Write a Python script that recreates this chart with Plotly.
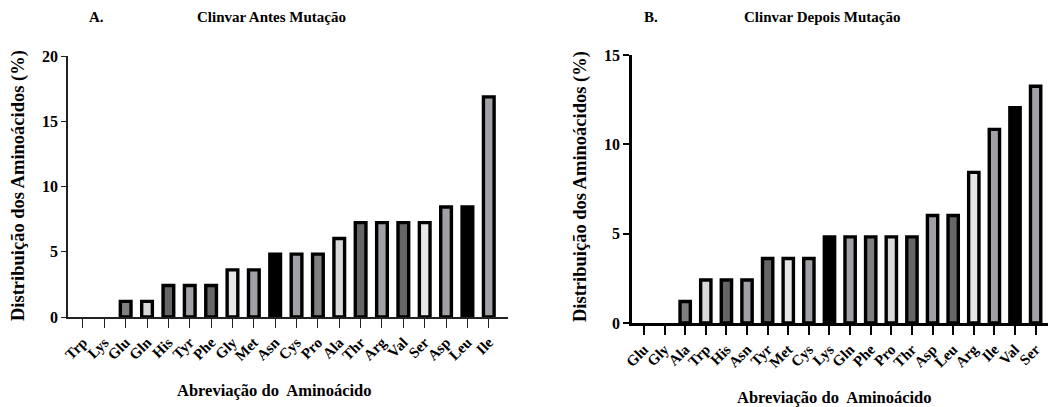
import plotly.graph_objects as go

# ---- data ----
cats_a = ["Trp", "Lys", "Glu", "Gln", "His", "Tyr", "Phe", "Gly", "Met", "Asn",
          "Cys", "Pro", "Ala", "Thr", "Arg", "Val", "Ser", "Asp", "Leu", "Ile"]
vals_a = [0.0, 0.0, 1.2, 1.2, 2.41, 2.41, 2.41, 3.61, 3.61, 4.82,
          4.82, 4.82, 6.02, 7.23, 7.23, 7.23, 7.23, 8.43, 8.43, 16.87]

cats_b = ["Glu", "Gly", "Ala", "Trp", "His", "Asn", "Tyr", "Met", "Cys", "Lys",
          "Gln", "Phe", "Pro", "Thr", "Asp", "Leu", "Arg", "Ile", "Val", "Ser"]
vals_b = [0.0, 0.0, 1.2, 2.41, 2.41, 2.41, 3.61, 3.61, 3.61, 4.82,
          4.82, 4.82, 4.82, 4.82, 6.02, 6.02, 8.43, 10.84, 12.05, 13.25]

yticks_a = [0, 5, 10, 15, 20]
yticks_b = [0, 5, 10, 15]

fill_colors = ["#ffffff", "#ffffff", "#808080", "#d9d9d9", "#666666", "#a0a0a6",
               "#666666", "#e6e6e6", "#a0a0a6", "#000000", "#a0a0a6", "#808080",
               "#d9d9d9", "#666666", "#a0a0a6", "#666666", "#e6e6e6", "#a0a0a6",
               "#000000", "#a0a0a6"]

W, H = 1049, 407
FONT = "Liberation Serif"

def px_x(v):
    return v / W

def px_y(v):
    return 1 - v / H

def b(s):
    return f"<b>{s}</b>"

fig = go.Figure()

for vals, cats, xa, ya in [(vals_a, cats_a, "x", "y"), (vals_b, cats_b, "x2", "y2")]:
    fig.add_trace(go.Bar(
        x=list(range(len(cats))), y=vals, xaxis=xa, yaxis=ya,
        width=0.5,
        marker=dict(color=fill_colors,
                    line=dict(color="#000000",
                              width=[0 if v == 0 else 3.4 for v in vals])),
        showlegend=False, hoverinfo="skip",
    ))

tickfont = dict(family=FONT, size=16, color="#000000")
xtickfont = dict(family=FONT, size=15, color="#000000")

fig.update_layout(
    template="none",
    width=W, height=H,
    margin=dict(l=0, r=0, t=0, b=0, autoexpand=False),
    paper_bgcolor="white", plot_bgcolor="white",
    xaxis=dict(domain=[px_x(68), px_x(508)], range=[-0.7, 19.9], automargin=False,
               tickmode="array", tickvals=list(range(len(cats_a))),
               ticktext=[b(c) for c in cats_a],
               tickangle=-45, tickfont=xtickfont, showgrid=False, zeroline=False,
               showline=True, linecolor="#222222", linewidth=1.6,
               ticks="outside", ticklen=9, tickwidth=1.4, tickcolor="#222222",
               anchor="y"),
    yaxis=dict(domain=[px_y(317), px_y(56)], range=[0, 20], automargin=False,
               tickmode="array", tickvals=yticks_a,
               ticktext=[b(t) for t in yticks_a], tickfont=tickfont,
               showgrid=False, zeroline=False,
               showline=True, linecolor="#222222", linewidth=1.6,
               ticks="outside", ticklen=5, tickwidth=1.4, tickcolor="#222222",
               anchor="x"),
    xaxis2=dict(domain=[px_x(632), px_x(1048)], range=[-0.58, 19.6], automargin=False,
                tickmode="array", tickvals=list(range(len(cats_b))),
                ticktext=[b(c) for c in cats_b],
                tickangle=-45, tickfont=xtickfont, showgrid=False, zeroline=False,
                showline=True, linecolor="#000000", linewidth=2.6,
                ticks="outside", ticklen=9, tickwidth=2.2, tickcolor="#000000",
                anchor="y2"),
    yaxis2=dict(domain=[px_y(323), px_y(55)], range=[0, 15], automargin=False,
                tickmode="array", tickvals=yticks_b,
                ticktext=[b(t) for t in yticks_b], tickfont=tickfont,
                showgrid=False, zeroline=False,
                showline=True, linecolor="#000000", linewidth=2.6,
                ticks="outside", ticklen=6, tickwidth=2.2, tickcolor="#000000",
                anchor="x2"),
)

afont = dict(family=FONT, size=15, color="#000000")
tfont = dict(family=FONT, size=16.5, color="#000000")
yfont = dict(family=FONT, size=18.5, color="#000000")

def ann(x, y, text, font, angle=0):
    fig.add_annotation(x=px_x(x), y=px_y(y), xref="paper", yref="paper",
                       text=b(text), showarrow=False, font=font,
                       textangle=angle, xanchor="center", yanchor="middle")

ann(96, 17, "A.", afont)
ann(271, 17, "Clinvar Antes Mutação", afont)
ann(651, 17, "B.", afont)
ann(822, 17, "Clinvar Depois Mutação", afont)

ann(18, 186, "Distribuição dos Aminoácidos (%)", yfont, -90)
ann(580, 187, "Distribuição dos Aminoácidos (%)", yfont, -90)

ann(274, 390, "Abreviação do&nbsp; Aminoácido", tfont)
ann(834, 397, "Abreviação do&nbsp; Aminoácido", tfont)

fig.write_html("out.html",
               config={"displayModeBar": False},
               post_script="document.body.style.margin='0px';document.body.style.overflow='hidden';")
